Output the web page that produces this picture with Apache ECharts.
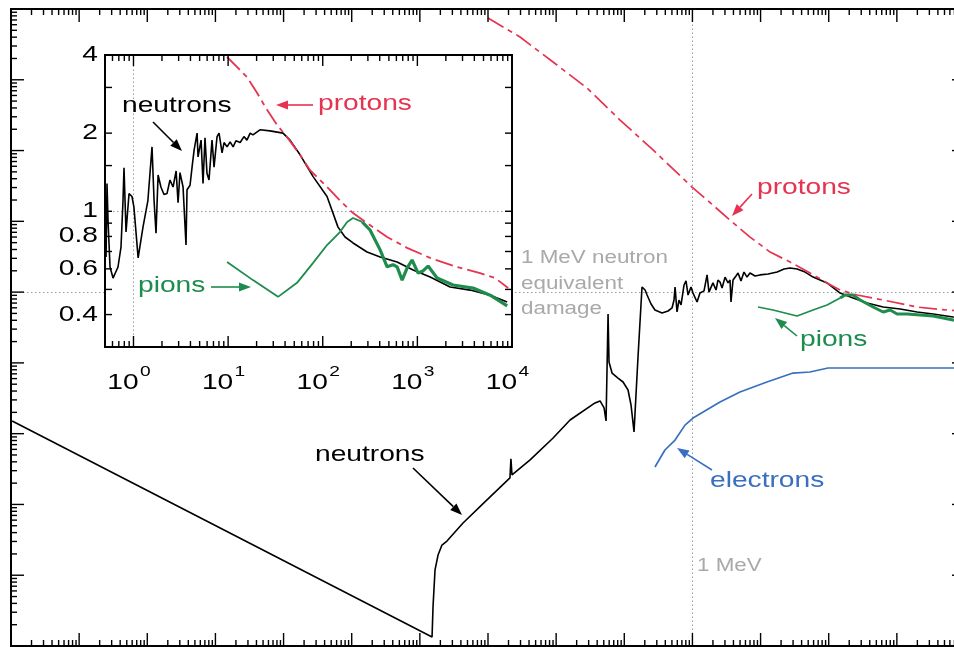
<!DOCTYPE html>
<html>
<head>
<meta charset="utf-8">
<title>Displacement damage functions</title>
<script src="https://cdn.jsdelivr.net/npm/echarts@6/dist/echarts.min.js"></script>
<style>
  html, body { margin: 0; padding: 0; background: #fff; overflow: hidden; }
  /* the frame's right edge sits just past the visible window */
  #chart { width: 968px; height: 647px; }
</style>
</head>
<body>
<div id="chart"></div>
<script>
// Displacement damage D(E) normalised to 95 MeV mb, energy in MeV.

// ---- main panel (1e-10 .. 1e4 MeV) ----
const neutronsMain = [
  [1.04e-10, 1.51e-2], [1.51e-4, 1.34e-5], [1.56e-4, 3.56e-5], [1.67e-4, 1.19e-4], [1.85e-4, 1.93e-4],
  [2.11e-4, 2.67e-4], [2.50e-4, 3.04e-4], [4.30e-4, 5.47e-4], [9.66e-4, 1.16e-3],
  [2.10e-3, 2.37e-3], [2.17e-3, 4.40e-3], [2.25e-3, 2.61e-3], [4.15e-3, 4.26e-3],
  [9.02e-3, 8.69e-3], [1.60e-2, 1.56e-2], [3.72e-2, 2.72e-2], [4.41e-2, 2.90e-2],
  [5.05e-2, 2.31e-2], [5.40e-2, 1.51e-2], [5.78e-2, 0.491], [5.97e-2, 0.103],
  [6.61e-2, 0.0719], [8.09e-2, 0.0611], [9.59e-2, 0.0537], [0.1135, 0.0414],
  [0.1256, 0.0254], [0.139, 0.0106], [0.159, 0.121], [0.182, 1.18],
  [0.202, 1.07], [0.216, 0.910], [0.247, 0.679], [0.282, 0.558],
  [0.358, 0.507], [0.439, 0.541], [0.502, 0.597], [0.537, 0.773],
  [0.556, 1.18], [0.594, 0.524], [0.635, 0.773], [0.681, 0.658],
  [0.753, 1.26], [0.805, 1.44], [0.863, 0.910], [0.953, 1.18],
  [1.02, 0.970], [1.17, 0.724], [1.29, 0.970], [1.48, 1.04],
  [1.64, 1.75], [1.75, 1.00], [2.00, 1.35], [2.22, 1.07],
  [2.37, 1.48], [2.54, 1.39], [2.72, 1.14], [3.01, 1.63],
  [3.33, 1.35], [3.56, 1.48], [3.68, 0.724], [3.94, 1.48],
  [4.36, 1.69], [4.67, 1.86], [5.16, 1.44], [5.71, 1.92],
  [6.32, 1.63], [7.00, 1.86], [8.30, 1.69], [9.82, 1.75],
  [12.9, 1.80], [17.5, 1.92], [22.1, 2.12], [27.1, 2.19],
  [34.4, 2.12], [45.0, 1.92], [59.0, 1.63], [94.6, 1.35],
  [147, 0.97], [228, 0.826], [366, 0.701], [630, 0.616],
  [1117, 0.577], [1982, 0.524], [3404, 0.491], [6699, 0.445], [10000, 0.431]
];
const protonsMain = [
  [1.0e-3, 7460], [2.95e-3, 4020], [9.0e-3, 1782], [2.84e-2, 765],
  [8.66e-2, 270], [0.264, 102], [0.987, 30.5], [1.64, 20.0],
  [3.56, 10.4], [7.00, 5.99], [13.8, 3.68], [27.1, 2.66],
  [53.2, 1.86], [94.6, 1.35], [147, 1.07], [261, 0.910],
  [630, 0.773], [1982, 0.615], [5460, 0.558], [10000, 0.541]
];
const pionsMain = [
  [9.18, 0.616], [15.2, 0.558], [34.3, 0.459], [58.9, 0.558],
  [94.6, 0.658], [147, 0.826], [174, 0.910], [228, 0.910],
  [289, 0.773], [448, 0.616], [630, 0.524], [797, 0.558],
  [1009, 0.491], [1415, 0.491], [3404, 0.459], [6699, 0.404], [10000, 0.391]
];
const electronsMain = [
  [0.282, 3.38e-3], [0.395, 5.88e-3], [0.556, 8.13e-3], [0.778, 1.32e-2],
  [1.02, 1.66e-2], [2.54, 2.80e-2], [4.99, 3.87e-2], [12.4, 5.37e-2],
  [29.9, 7.19e-2], [53.1, 7.43e-2], [97.7, 8.47e-2], [10000, 8.47e-2]
];

// ---- inset (0.5 .. 1e4 MeV) ----
const neutronsInset = [
  [0.513, 0.667], [0.525, 1.28], [0.538, 0.925], [0.565, 0.610], [0.608, 0.553],
  [0.686, 0.610], [0.738, 0.728], [0.775, 1.10], [0.794, 1.47], [0.834, 0.832],
  [0.897, 1.17], [0.964, 1.14], [1.01, 1.04], [1.12, 0.661], [1.26, 0.869],
  [1.36, 1.01], [1.42, 1.10], [1.57, 1.77], [1.65, 1.10], [1.73, 0.824],
  [1.82, 1.38], [1.95, 1.24], [2.10, 1.16], [2.26, 1.17], [2.43, 1.32],
  [2.62, 1.24], [2.82, 1.43], [2.96, 1.08], [3.10, 1.41], [3.34, 1.24],
  [3.59, 0.741], [3.68, 1.21], [3.96, 1.26], [4.16, 1.48], [4.37, 1.72],
  [4.70, 2.00], [4.81, 1.62], [5.18, 1.88], [5.43, 1.28], [5.70, 1.92],
  [5.98, 1.40], [6.28, 1.32], [6.76, 1.88], [7.10, 1.48], [7.64, 1.94],
  [8.02, 2.00], [8.63, 1.68], [9.06, 1.84], [9.75, 1.77], [10.5, 1.85],
  [11.3, 1.77], [12.1, 1.87], [13.4, 1.84], [14.7, 1.94], [15.8, 1.88],
  [17.1, 2.00], [18.3, 1.97], [21.7, 2.06], [27.7, 2.04], [38.0, 2.00],
  [45.1, 1.88], [57.6, 1.65], [79.1, 1.36], [111, 1.14], [145, 0.869],
  [172, 0.796], [209, 0.755], [294, 0.697], [404, 0.667], [611, 0.638],
  [902, 0.594], [1365, 0.558], [2218, 0.511], [3610, 0.497], [5880, 0.475], [8890, 0.447]
];
const protonsInset = [
  [9.75, 3.93], [12.4, 3.60], [15.8, 3.29], [20.2, 2.86], [25.8, 2.46],
  [32.9, 2.15], [42.0, 1.93], [57.6, 1.65], [73.4, 1.44], [93.7, 1.32],
  [119, 1.21], [152, 1.10], [209, 0.984], [294, 0.901], [479, 0.796],
  [778, 0.723], [1365, 0.661], [2630, 0.610], [4600, 0.578], [6630, 0.553], [9100, 0.506]
];
const pionsInset = [
  [9.75, 0.638], [18.3, 0.543], [33.7, 0.468], [53.5, 0.530], [79.1, 0.633],
  [111, 0.741], [152, 0.832], [181, 0.910], [209, 0.942], [261, 0.910],
  [316, 0.847], [404, 0.710], [479, 0.611], [554, 0.622], [611, 0.611],
  [690, 0.543], [778, 0.604], [879, 0.649], [1019, 0.578], [1148, 0.589],
  [1298, 0.615], [1615, 0.553], [2382, 0.520], [3880, 0.506], [5880, 0.475], [8890, 0.432]
];

// axis ranges and tick labels
const mainXRange = [1e-10, 1e4];
const mainYRange = [1e-5, 1e4];
const insetXRange = [0.5, 1e4];
const insetYRange = [0.3, 4];
const insetXLabelExponents = [0, 1, 2, 3, 4];
const insetYLabels = [4, 2, 1, 0.8, 0.6, 0.4];
const insetYTicks = [4, 3, 2, 1.5, 1, 0.9, 0.8, 0.7, 0.6, 0.5, 0.4];

const RED = '#e63350', GREEN = '#1d8c4c', BLUE = '#3a6fbf', GREY = '#a9a9a9';
const FONT = '"Liberation Sans", Arial, Helvetica, sans-serif';
const SX = 1.28; // horizontal stretch of the lettering
const PROTON_DASH = [18, 5, 5, 5];

// decade (major) and 2..9 (minor) ticks of a log axis within [lo, hi]
function logTicks(lo, hi) {
  const major = [], minor = [];
  const e0 = Math.floor(Math.log10(lo) + 1e-9), e1 = Math.ceil(Math.log10(hi) - 1e-9);
  for (let e = e0; e <= e1; e++) {
    const d = Math.pow(10, e);
    if (d >= lo * 0.999 && d <= hi * 1.001) major.push(d);
    for (let k = 2; k <= 9; k++) {
      const v = k * d;
      if (v >= lo * 0.999 && v <= hi * 1.001) minor.push(v);
    }
  }
  return { major, minor };
}

// tick items: [value, reference on other axis, code]  code 0/1 = x major/minor, 2/3 = y major/minor
function tickItems(xr, yr, xt, yMajor, yMinor) {
  const out = [];
  xt.major.forEach(v => out.push([v, yr[0], 0]));
  xt.minor.forEach(v => out.push([v, yr[0], 1]));
  yMajor.forEach(v => out.push([xr[0], v, 2]));
  yMinor.forEach(v => out.push([xr[0], v, 3]));
  return out;
}

function tickRenderer(xMajorLen, xMinorLen, yMajorLen, yMinorLen) {
  return function (params, api) {
    const cs = params.coordSys;
    const code = api.value(2);
    const style = { stroke: '#000', lineWidth: 1.4 };
    if (code < 2) {
      const len = code === 0 ? xMajorLen : xMinorLen;
      const px = api.coord([api.value(0), api.value(1)])[0];
      const yb = cs.y + cs.height, yt = cs.y;
      return { type: 'group', children: [
        { type: 'line', shape: { x1: px, y1: yb, x2: px, y2: yb - len }, style },
        { type: 'line', shape: { x1: px, y1: yt, x2: px, y2: yt + len }, style }
      ] };
    }
    const len = code === 2 ? yMajorLen : yMinorLen;
    const py = api.coord([api.value(0), api.value(1)])[1];
    const xl = cs.x, xr = cs.x + cs.width;
    return { type: 'group', children: [
      { type: 'line', shape: { x1: xl, y1: py, x2: xl + len, y2: py }, style },
      { type: 'line', shape: { x1: xr, y1: py, x2: xr - len, y2: py }, style }
    ] };
  };
}

const mainXT = logTicks(mainXRange[0], mainXRange[1]);
const mainYT = logTicks(mainYRange[0], mainYRange[1]);
const insetXT = logTicks(insetXRange[0], insetXRange[1]);

const dotted = { color: '#9a9a9a', type: [1.5, 2.5], width: 1 };

function line(name, data, xi, color, width, z, dash) {
  return {
    name, type: 'line', data, xAxisIndex: xi, yAxisIndex: xi, z,
    showSymbol: false, symbol: 'none', silent: true, animation: false,
    lineStyle: { color, width, type: dash || 'solid' }
  };
}

const logAxis = (grid, r) => ({
  type: 'log', logBase: 10, gridIndex: grid, min: r[0], max: r[1],
  axisLine: { show: false }, axisTick: { show: false },
  axisLabel: { show: false }, splitLine: { show: false }
});

const pionsInsetLow = pionsInset.filter(p => p[0] <= 261);
const pionsInsetHigh = pionsInset.filter(p => p[0] >= 261);
const pionsMainLow = pionsMain.filter(p => p[0] <= 147);
const pionsMainHigh = pionsMain.filter(p => p[0] >= 147);

const series = [
  Object.assign(line('neutrons', neutronsMain, 0, '#000', 1.6, 3), {
    markLine: {
      silent: true, symbol: 'none', animation: false, z: 2,
      label: { show: false }, lineStyle: dotted,
      data: [{ xAxis: 1 }, { yAxis: 1 }]
    }
  }),
  line('protons', protonsMain, 0, RED, 1.7, 4, PROTON_DASH),
  line('pions', pionsMainLow, 0, GREEN, 1.6, 3),
  line('pions', pionsMainHigh, 0, GREEN, 3, 3),
  line('electrons', electronsMain, 0, BLUE, 1.7, 3),
  {
    type: 'custom', xAxisIndex: 0, yAxisIndex: 0, z: 6, silent: true, animation: false,
    renderItem: tickRenderer(13, 6, 13, 6),
    data: tickItems(mainXRange, mainYRange, mainXT, mainYT.major, mainYT.minor)
  },
  Object.assign(line('neutrons', neutronsInset, 1, '#000', 1.6, 22), {
    markLine: {
      silent: true, symbol: 'none', animation: false, z: 21,
      label: { show: false }, lineStyle: dotted,
      data: [{ xAxis: 1 }, { yAxis: 1 }]
    }
  }),
  line('protons', protonsInset, 1, RED, 1.8, 23, PROTON_DASH),
  line('pions', pionsInsetLow, 1, GREEN, 1.8, 22),
  line('pions', pionsInsetHigh, 1, GREEN, 3.2, 22),
  {
    type: 'custom', xAxisIndex: 1, yAxisIndex: 1, z: 24, silent: true, animation: false,
    renderItem: tickRenderer(11, 6, 7, 7),
    data: tickItems(insetXRange, insetYRange, insetXT, insetYTicks, [])
  },
  {
    // inset tick labels: code 0 = powers of ten on x, 1 = plain numbers on y
    type: 'custom', xAxisIndex: 1, yAxisIndex: 1, z: 24, silent: true, animation: false,
    renderItem: function (params, api) {
      const cs = params.coordSys;
      const code = api.value(2);
      if (code === 0) {
        const e = api.value(3);
        const px = api.coord([api.value(0), api.value(1)])[0];
        return { type: 'group', x: px, y: cs.y + cs.height + 36, scaleX: SX, children: [
          { type: 'text', x: 4, y: 0, style: { text: '10', fill: '#000', font: '22px ' + FONT, align: 'right', verticalAlign: 'middle' } },
          { type: 'text', x: 5, y: -11, style: { text: String(e), fill: '#000', font: '15px ' + FONT, align: 'left', verticalAlign: 'middle' } }
        ] };
      }
      const py = api.coord([api.value(0), api.value(1)])[1];
      return { type: 'text', x: cs.x - 7, y: py, scaleX: SX,
        style: { text: String(api.value(1)), fill: '#000', font: '22px ' + FONT, align: 'right', verticalAlign: 'middle' } };
    },
    data: insetXLabelExponents.map(e => [Math.pow(10, e), insetYRange[0], 0, e])
      .concat(insetYLabels.map(v => [insetXRange[0], v, 1, 0]))
  }
];

// annotation helpers
function label(text, x, y, color, size) {
  return { type: 'text', x, y, scaleX: SX, z: 40, silent: true,
    style: { text, fill: color, font: (size || 22) + 'px ' + FONT, align: 'left', verticalAlign: 'middle' } };
}
function arrow(x1, y1, x2, y2, color) {
  const dx = x2 - x1, dy = y2 - y1, L = Math.hypot(dx, dy);
  const ux = dx / L, uy = dy / L, hl = 12, hw = 4.5;
  const bx = x2 - ux * hl, by = y2 - uy * hl;
  return [
    { type: 'line', z: 40, silent: true, shape: { x1, y1, x2: bx, y2: by }, style: { stroke: color, lineWidth: 1.6 } },
    { type: 'polygon', z: 40, silent: true,
      shape: { points: [[x2, y2], [bx - uy * hw, by + ux * hw], [bx + uy * hw, by - ux * hw]] },
      style: { fill: color } }
  ];
}

const graphics = [
  label('protons', 757, 188, RED), ...arrow(752, 194, 732, 216, RED),
  label('pions', 800, 340, GREEN), ...arrow(797, 336, 775, 318, GREEN),
  label('electrons', 710, 481, BLUE), ...arrow(712, 470, 677, 448, BLUE),
  label('neutrons', 315, 455, '#000'), ...arrow(413, 468, 462, 515, '#000'),
  label('1 MeV', 697, 566, GREY, 17.5),
  label('1 MeV neutron', 521, 258, GREY, 17.5),
  label('equivalent', 521, 284, GREY, 17.5),
  label('damage', 521, 309, GREY, 17.5),
  label('neutrons', 122, 106, '#000'), ...arrow(153, 122, 182, 151, '#000'),
  label('protons', 318, 104, RED), ...arrow(313, 105, 276, 105, RED),
  label('pions', 138, 286, GREEN), ...arrow(211, 287, 251, 287, GREEN)
];

const chart = echarts.init(document.getElementById('chart'), null, { renderer: 'canvas' });
chart.setOption({
  animation: false,
  backgroundColor: '#fff',
  grid: [
    { left: 11, top: 9, width: 954, height: 637, show: true, borderColor: '#000', borderWidth: 2, backgroundColor: 'transparent', z: 0 },
    { left: 105, top: 55, width: 407, height: 292, show: true, borderColor: '#000', borderWidth: 2, backgroundColor: '#fff', z: 20 }
  ],
  xAxis: [logAxis(0, mainXRange), logAxis(1, insetXRange)],
  yAxis: [logAxis(0, mainYRange), logAxis(1, insetYRange)],
  series,
  graphic: graphics
});
</script>
</body>
</html>
